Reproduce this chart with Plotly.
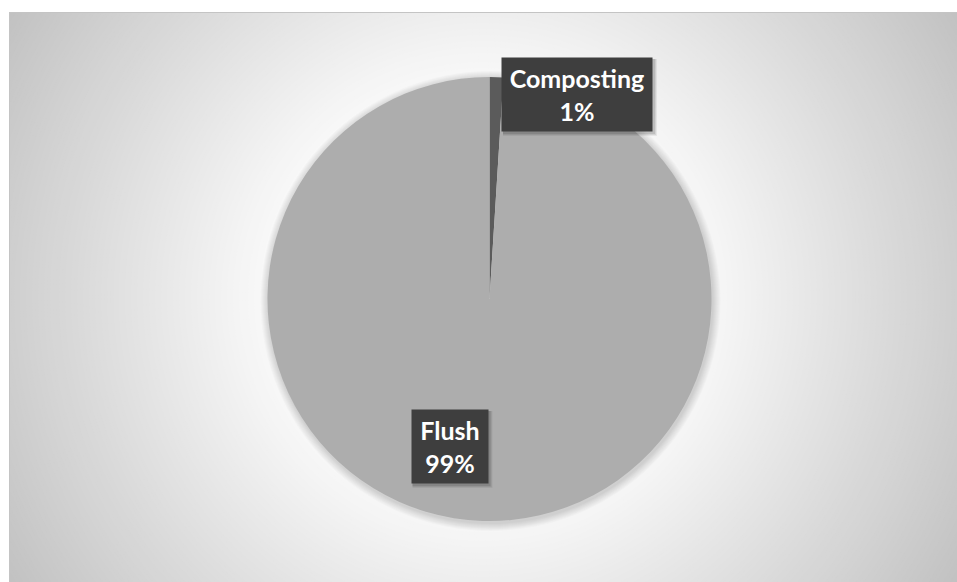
import plotly.graph_objects as go

# ---- data ----
labels = ["Composting", "Flush"]
values = [1, 99]
slice_colors = ["#5b5b5b", "#adadad"]

W, H = 957, 582
total = sum(values)
pcts = [round(v / total * 100) for v in values]

fig = go.Figure()

fig.add_trace(go.Pie(
    labels=labels, values=values, sort=False, direction="clockwise", rotation=0,
    marker=dict(colors=slice_colors, line=dict(width=0)),
    textinfo="none", hoverinfo="label+percent", showlegend=False,
    domain=dict(x=[267.5 / W, 711.5 / W], y=[61 / H, 505 / H]),
))

shapes = []
# radial gradient background (rings, outer to inner)
cx, cy = 483, 297
r = 580
while r >= 170:
    if r > 180:
        v = 255 - 0.164 * (r - 180)
    else:
        v = 255
    v = max(0, min(255, int(round(v))))
    shapes.append(dict(type="circle", xref="x", yref="y", layer="below",
                       x0=cx - r, x1=cx + r, y0=cy - r, y1=cy + r,
                       fillcolor=f"rgb({v},{v},{v})", line=dict(width=0)))
    r -= 3

# pie soft shadow
pcx, pcy, pr = 490.5, 301, 222
for k in range(8, 0, -1):
    rr = pr + k
    shapes.append(dict(type="circle", xref="x", yref="y", layer="below",
                       x0=pcx - rr, x1=pcx + rr, y0=pcy - rr, y1=pcy + rr,
                       fillcolor="rgba(0,0,0,0.018)", line=dict(width=0)))

# white outer margins and chart border
shapes.append(dict(type="rect", xref="x", yref="y", layer="below",
                   x0=0, x1=W, y0=0, y1=12, fillcolor="white", line=dict(width=0)))
shapes.append(dict(type="rect", xref="x", yref="y", layer="below",
                   x0=0, x1=9, y0=0, y1=H, fillcolor="white", line=dict(width=0)))
shapes.append(dict(type="rect", xref="x", yref="y", layer="below",
                   x0=9.5, x1=W + 2, y0=12.5, y1=H + 2, fillcolor="rgba(0,0,0,0)",
                   line=dict(color="#c4c4c4", width=1)))

# label boxes
boxes = [
    dict(cx=577, cy=94.5, w=150, h=73),
    dict(cx=449.5, cy=446.5, w=76, h=73),
]
annotations = []
for lab, p, b in zip(labels, pcts, boxes):
    # shadow
    for k, op in [(5, 0.06), (4, 0.08), (3, 0.1)]:
        shapes.append(dict(type="rect", xref="x", yref="y", layer="above",
                           x0=b["cx"] - b["w"] / 2 + 1, x1=b["cx"] + b["w"] / 2 + k,
                           y0=b["cy"] - b["h"] / 2 + 1, y1=b["cy"] + b["h"] / 2 + k,
                           fillcolor=f"rgba(0,0,0,{op})", line=dict(width=0)))
    annotations.append(dict(
        x=b["cx"], y=b["cy"], xref="x", yref="y", showarrow=False,
        text=f"<b>{lab}<br>{p}%</b>", width=b["w"], height=b["h"], borderpad=0,
        bgcolor="#3e3e3e", align="center", valign="middle",
        font=dict(family="Lato, Open Sans, sans-serif", size=25, color="white"),
    ))

fig.update_layout(
    width=W, height=H, margin=dict(l=0, r=0, t=0, b=0),
    paper_bgcolor="white", plot_bgcolor="rgba(0,0,0,0)",
    xaxis=dict(range=[0, W], visible=False, fixedrange=True),
    yaxis=dict(range=[H, 0], visible=False, fixedrange=True),
    shapes=shapes, annotations=annotations, showlegend=False,
)

fig.write_html("out.html")
